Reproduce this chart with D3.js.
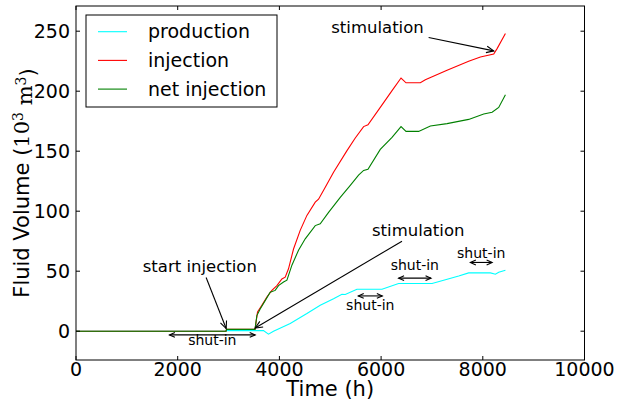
<!DOCTYPE html>
<html>
<head>
    <title>Fluid volume vs time</title>
    <script src="https://d3js.org/d3.v7.min.js"></script>
    <style>
        body { margin: 0; background: #fff; }
        svg text { font-family: "DejaVu Sans", sans-serif; fill: #000; }
    </style>
</head>
<body>
    <div id="chart"></div>

    <script type="text/javascript">
        // production (cyan)
        var prodTime = [0, 2950, 2960, 3520, 3687, 3785, 3884, 4213, 4541, 4803, 5065, 5230, 5295, 5525, 6018, 6344, 7002, 7230, 7526, 7722, 8150, 8248, 8313, 8445];
        var prodVol  = [0, 0, 0.5, 0.5, 0.5, -2.5, 0, 6.5, 14.7, 21.7, 27, 30.8, 30.6, 35, 35, 39.7, 39.7, 42.5, 46, 48.6, 48.6, 47.5, 49.2, 50.8];

        // injection (red)
        var injTime = [0, 2950, 2960, 3520, 3570, 3655, 3754, 3852, 3951, 4049, 4114, 4179, 4278, 4409, 4541, 4705, 4770, 4902, 5065, 5329, 5492, 5656, 5742, 5984, 6215, 6392, 6490, 6772, 6870, 7297, 7722, 7953, 8215, 8281, 8445];
        var injVol  = [0, 0, 1.5, 1.5, 16, 21.5, 28.5, 34, 38, 43.5, 45, 52, 68.5, 84, 96.5, 107.5, 110, 120, 132.5, 150.5, 161, 170.5, 172, 186.5, 200.5, 211, 207, 207, 209.5, 217.5, 225, 228.5, 231, 235.5, 248];

        // net injection (green)
        var netTime = [0, 2950, 2960, 3520, 3557, 3622, 3720, 3819, 3917, 3982, 4081, 4148, 4246, 4376, 4508, 4705, 4803, 4967, 5197, 5394, 5557, 5656, 5742, 5984, 6215, 6392, 6490, 6738, 6969, 7297, 7722, 8018, 8183, 8313, 8445];
        var netVol  = [0, 0, 1.5, 1.5, 13, 18.5, 25.5, 32.5, 34, 38, 41, 42.5, 55, 67.5, 77, 88, 89.5, 99, 111.5, 121.5, 130, 134, 135, 151.5, 161.5, 170.5, 166.5, 166.5, 171, 173, 176.5, 181, 182.5, 186.5, 197];

        var xTicks = [0, 2000, 4000, 6000, 8000, 10000];
        var yTicks = [0, 50, 100, 150, 200, 250];

        var seriesNames = ["production", "injection", "net injection"];
        var seriesColors = ["#00ffff", "#ff0000", "#008000"];

        // shut-in periods: [start, end, arrow level, label level]
        var shutStart = [1837, 5551, 6344, 7756];
        var shutEnd   = [3524, 6024, 6982, 8183];
        var shutLevel = [-3.1, 29.4, 44.2, 57.3];
        var shutText  = [-11.7, 17.5, 51.4, 61.4];

        // annotations: label, text anchor point, arrow tail, arrow tip
        var noteLabels = ["start injection", "stimulation", "stimulation"];
        var noteTextT  = [1313, 5821, 5020];
        var noteTextV  = [49.4, 79.4, 248.7];
        var noteFromT  = [2559, 6411, 6935];
        var noteFromV  = [44.7, 75, 244.7];
        var noteToT    = [2953, 3524, 8215];
        var noteToV    = [2.2, 2.7, 233.6];

        var W = 617, H = 403;
        var margin = {left: 76, right: 32.5, top: 6, bottom: 43};

        var svg = d3.select("#chart").append("svg")
            .attr("width", W)
            .attr("height", H);

        var x = d3.scaleLinear().domain([0, 10000]).range([margin.left, W - margin.right]);
        var y = d3.scaleLinear().domain([-24, 271]).range([H - margin.bottom, margin.top]);

        var x0 = x.range()[0], x1 = x.range()[1];
        var y0 = y.range()[0], y1 = y.range()[1];

        // series
        var line = d3.line()
            .x(function(d) { return x(d[0]); })
            .y(function(d) { return y(d[1]); });

        var series = [
            d3.zip(prodTime, prodVol),
            d3.zip(injTime, injVol),
            d3.zip(netTime, netVol)
        ];

        var g = svg.append("g");
        series.forEach(function(s, i) {
            g.append("path")
                .datum(s)
                .attr("d", line)
                .attr("fill", "none")
                .attr("stroke", seriesColors[i])
                .attr("stroke-width", 1.1);
        });

        // frame and inward ticks on all sides
        svg.append("rect")
            .attr("x", x0).attr("y", y1)
            .attr("width", x1 - x0).attr("height", y0 - y1)
            .attr("fill", "none").attr("stroke", "#000").attr("stroke-width", 1);

        var tickLen = 4;
        xTicks.forEach(function(t) {
            svg.append("line").attr("x1", x(t)).attr("x2", x(t))
                .attr("y1", y0).attr("y2", y0 - tickLen).attr("stroke", "#000");
            svg.append("line").attr("x1", x(t)).attr("x2", x(t))
                .attr("y1", y1).attr("y2", y1 + tickLen).attr("stroke", "#000");
            svg.append("text")
                .attr("x", x(t)).attr("y", y0 + 15.5)
                .attr("text-anchor", "middle")
                .style("font-size", "19px")
                .text(t);
        });
        yTicks.forEach(function(v) {
            svg.append("line").attr("x1", x0).attr("x2", x0 + tickLen)
                .attr("y1", y(v)).attr("y2", y(v)).attr("stroke", "#000");
            svg.append("line").attr("x1", x1).attr("x2", x1 - tickLen)
                .attr("y1", y(v)).attr("y2", y(v)).attr("stroke", "#000");
            svg.append("text")
                .attr("x", x0 - 6).attr("y", y(v))
                .attr("dy", "0.36em")
                .attr("text-anchor", "end")
                .style("font-size", "19px")
                .text(v);
        });

        // axis labels
        svg.append("text")
            .attr("x", (x0 + x1) / 2).attr("y", 396)
            .attr("text-anchor", "middle")
            .style("font-size", "21px")
            .text("Time (h)");

        var yl = svg.append("text")
            .attr("transform", "translate(29," + ((y0 + y1) / 2) + ") rotate(-90)")
            .attr("text-anchor", "middle")
            .style("font-size", "21px");
        yl.append("tspan").text("Fluid Volume (");
        yl.append("tspan").style("font-family", "DejaVu Serif").text("10");
        yl.append("tspan").attr("dy", "-0.45em").style("font-size", "14px")
            .style("font-family", "DejaVu Serif").text("3");
        yl.append("tspan").attr("dy", "0.45em").style("font-family", "DejaVu Serif").text(" m");
        yl.append("tspan").attr("dy", "-0.45em").style("font-size", "14px")
            .style("font-family", "DejaVu Serif").text("3");
        yl.append("tspan").attr("dy", "0.45em").text(")");

        // arrow helper: open V head at (bx,by) pointing away from (ax,ay)
        function arrowHead(ax, ay, bx, by, len) {
            var ang = Math.atan2(by - ay, bx - ax);
            var spread = 0.42;
            svg.append("path")
                .attr("d", "M" + (bx - len * Math.cos(ang - spread)) + "," + (by - len * Math.sin(ang - spread)) +
                           "L" + bx + "," + by +
                           "L" + (bx - len * Math.cos(ang + spread)) + "," + (by - len * Math.sin(ang + spread)))
                .attr("fill", "none").attr("stroke", "#000").attr("stroke-width", 1.1);
        }

        // shut-in double arrows
        shutStart.forEach(function(s, i) {
            var ax = x(s), bx = x(shutEnd[i]), ly = y(shutLevel[i]);
            svg.append("line").attr("x1", ax).attr("x2", bx)
                .attr("y1", ly).attr("y2", ly)
                .attr("stroke", "#000").attr("stroke-width", 1.1);
            arrowHead(bx, ly, ax, ly, 6);
            arrowHead(ax, ly, bx, ly, 6);
            svg.append("text")
                .attr("x", (ax + bx) / 2).attr("y", y(shutText[i]))
                .attr("text-anchor", "middle")
                .style("font-size", "14px")
                .text("shut-in");
        });

        // labelled arrows
        noteLabels.forEach(function(lab, i) {
            svg.append("text")
                .attr("x", x(noteTextT[i])).attr("y", y(noteTextV[i]))
                .style("font-size", "16.5px")
                .text(lab);
            var ax = x(noteFromT[i]), ay = y(noteFromV[i]);
            var bx = x(noteToT[i]), by = y(noteToV[i]);
            svg.append("line").attr("x1", ax).attr("y1", ay)
                .attr("x2", bx).attr("y2", by)
                .attr("stroke", "#000").attr("stroke-width", 1.1);
            arrowHead(ax, ay, bx, by, 8);
        });

        // legend
        var lg = svg.append("g").attr("transform", "translate(86,15)");
        lg.append("rect")
            .attr("width", 191).attr("height", 92)
            .attr("fill", "#fff").attr("stroke", "#000").attr("stroke-width", 1);
        seriesNames.forEach(function(name, i) {
            var ly = 16.7 + i * 28.7;
            lg.append("line").attr("x1", 12).attr("x2", 41)
                .attr("y1", ly).attr("y2", ly)
                .attr("stroke", seriesColors[i]).attr("stroke-width", 1.1);
            lg.append("text")
                .attr("x", 62).attr("y", ly).attr("dy", "0.35em")
                .style("font-size", "19px")
                .text(name);
        });
    </script>
</body>
</html>
